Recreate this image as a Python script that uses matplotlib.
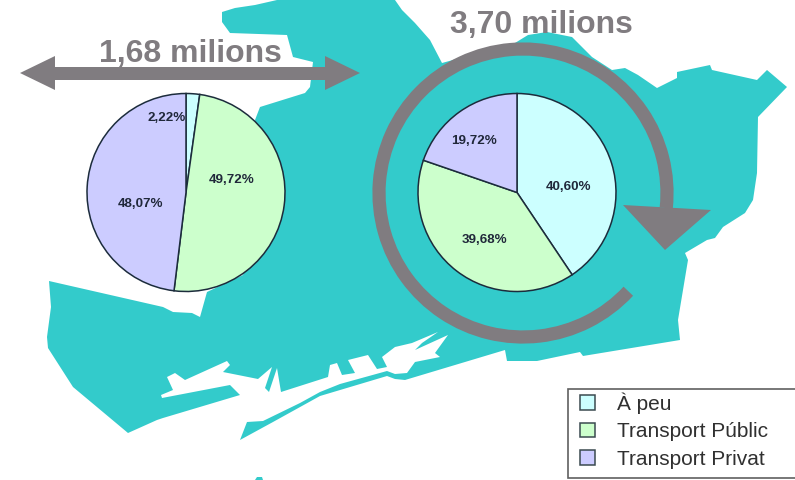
import matplotlib
matplotlib.use('Agg')
import matplotlib.pyplot as plt
from matplotlib.patches import Arc, Polygon, Patch, Rectangle

plt.rcParams['font.family'] = ['Liberation Sans', 'DejaVu Sans']

# Trip shares per mode
modes = ['À peu', 'Transport Públic', 'Transport Privat']
left_shares = [2.22, 49.72, 48.07]
right_shares = [40.60, 39.68, 19.72]
left_total = '1,68 milions'
right_total = '3,70 milions'

mode_colors = ['#CCFFFF', '#CCFFCC', '#CCCCFF']
land_color = '#33CBCB'
gray = '#807C80'

# Outline of the city, harbour channel and breakwater included (pixel coordinates)
land_outline = [
    (277, 0), (255, 5), (235, 8), (222, 12), (222, 22), (230, 33), (287, 35), (293, 57),
    (313, 62), (310, 87), (305, 93), (260, 107), (255, 120), (270, 200), (243, 275),
    (207, 292), (200, 317), (192, 313), (173, 312), (163, 307), (49, 281), (51, 307),
    (47, 337), (48, 348), (73, 387), (128, 433), (157, 420), (163, 418), (240, 395),
    (250, 405), (230, 385), (162, 398), (161, 395), (173, 390), (167, 377), (175, 373),
    (185, 380), (227, 361), (230, 365), (223, 372), (258, 379), (272, 367), (265, 388),
    (269, 392), (277, 368), (281, 392), (328, 377), (330, 365), (337, 363), (342, 375),
    (355, 373), (348, 360), (368, 355), (377, 369), (387, 367), (382, 357), (395, 347),
    (412, 343), (438, 332), (422, 343), (415, 350), (448, 335), (435, 353), (440, 357),
    (415, 362), (407, 373), (395, 374), (387, 371), (340, 384), (320, 392), (300, 403),
    (263, 421), (247, 422), (240, 440), (273, 422), (320, 396), (387, 376), (395, 379),
    (405, 380), (505, 350), (507, 361), (537, 361), (580, 352), (583, 356), (680, 340),
    (678, 320), (688, 260), (685, 253), (707, 240), (715, 238), (723, 227), (745, 213),
    (753, 200), (757, 173), (758, 117), (787, 87), (767, 70), (757, 80), (712, 70),
    (710, 65), (677, 72), (677, 78), (657, 88), (638, 75), (625, 68), (612, 70), (592, 57),
    (572, 37), (547, 32), (528, 35), (515, 43), (442, 63), (430, 40), (415, 23), (402, 10),
    (395, 0),
]
speck = [(255, 480), (257, 477), (262, 477), (263, 480)]


def pct(v):
    return '{:.2f}%'.format(v).replace('.', ',')


fig = plt.figure(figsize=(7.95, 4.8), dpi=100)
ax = fig.add_axes([0, 0, 1, 1])
ax.add_patch(Polygon(land_outline, closed=True, fc=land_color, ec='none', zorder=1))
ax.add_patch(Polygon(speck, closed=True, fc=land_color, ec='none', zorder=1))

# The y axis runs downwards here, so counterclock=True turns clockwise on screen
wedge_style = {'edgecolor': '#1c2c3c', 'linewidth': 1.1, 'zorder': 3}
ax.pie(left_shares, colors=mode_colors, center=(186, 192.5), radius=99, startangle=-90,
       counterclock=True, frame=True, wedgeprops=wedge_style)
ax.pie(right_shares, colors=mode_colors, center=(517, 192.5), radius=99, startangle=-90,
       counterclock=True, frame=True, wedgeprops=wedge_style)
ax.set_xlim(0, 795)
ax.set_ylim(480, 0)
ax.axis('off')

# Share labels
label_font = {'ha': 'center', 'va': 'center', 'fontsize': 9.6, 'fontweight': 'bold',
              'color': '#20283a', 'zorder': 5}
for v, (x, y) in zip(left_shares, [(167, 118), (232, 180), (140, 204)]):
    ax.text(x, y, pct(v), **label_font)
for v, (x, y) in zip(right_shares, [(569, 187), (484, 240), (474, 141)]):
    ax.text(x, y, pct(v), **label_font)

# Commuting arrows
ax.add_patch(Polygon([(20, 73), (55, 56), (55, 67), (325, 67), (325, 56), (360, 73),
                      (325, 90), (325, 80), (55, 80), (55, 90)],
                     closed=True, fc=gray, ec='none', zorder=4))
ring = Arc((523, 193), 288, 288, theta1=43, theta2=366, ec=gray, lw=9.5, zorder=2)
ring.set_capstyle('butt')
ax.add_patch(ring)
ax.add_patch(Polygon([(623, 205), (711, 210), (665, 250)], closed=True, fc=gray, ec='none',
                     zorder=4))

title_font = {'ha': 'center', 'va': 'baseline', 'fontsize': 23, 'fontweight': 'bold', 'color': gray,
              'zorder': 5}
ax.text(190, 62, left_total, **title_font)
ax.text(541, 33, right_total, **title_font)

# Legend box runs off the right edge
ax.add_patch(Rectangle((568, 389), 240, 89, fc='white', ec='#606060', lw=1.2, zorder=6))
handles = [Patch(fc=c, ec='#3a4a50', lw=1.1) for c in mode_colors]
leg = ax.legend(handles, modes, loc='upper left', bbox_to_anchor=(580 / 795, 1 - 392 / 480),
                fontsize=15, frameon=False, handlelength=0.72, handleheight=0.72,
                handletextpad=1.06, labelspacing=0.42, borderpad=0, borderaxespad=0,
                labelcolor='#303030')
leg.set_zorder(7)

fig.savefig('out.png', dpi=100)
